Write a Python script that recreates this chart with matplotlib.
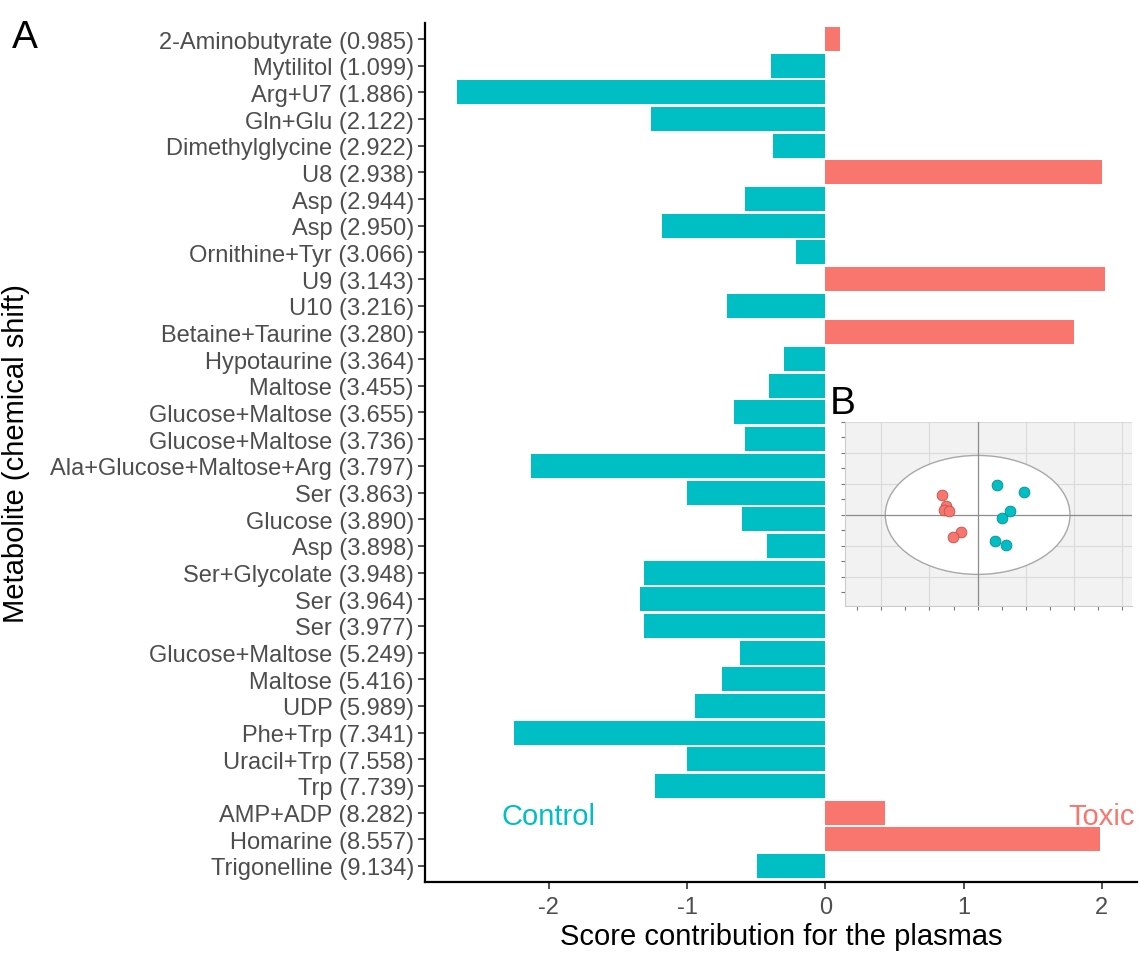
import numpy as np
import matplotlib
matplotlib.use("Agg")
import matplotlib.pyplot as plt
from matplotlib.patches import Ellipse

plt.rcParams['font.family'] = ['Liberation Sans', 'DejaVu Sans']

metabolites = [
    "2-Aminobutyrate (0.985)", "Mytilitol (1.099)", "Arg+U7 (1.886)", "Gln+Glu (2.122)",
    "Dimethylglycine (2.922)", "U8 (2.938)", "Asp (2.944)", "Asp (2.950)",
    "Ornithine+Tyr (3.066)", "U9 (3.143)", "U10 (3.216)", "Betaine+Taurine (3.280)",
    "Hypotaurine (3.364)", "Maltose (3.455)", "Glucose+Maltose (3.655)", "Glucose+Maltose (3.736)",
    "Ala+Glucose+Maltose+Arg (3.797)", "Ser (3.863)", "Glucose (3.890)", "Asp (3.898)",
    "Ser+Glycolate (3.948)", "Ser (3.964)", "Ser (3.977)", "Glucose+Maltose (5.249)",
    "Maltose (5.416)", "UDP (5.989)", "Phe+Trp (7.341)", "Uracil+Trp (7.558)",
    "Trp (7.739)", "AMP+ADP (8.282)", "Homarine (8.557)", "Trigonelline (9.134)",
]
scores = [
    0.11, -0.39, -2.66, -1.26,
    -0.38, 2.00, -0.58, -1.18,
    -0.21, 2.02, -0.71, 1.80,
    -0.30, -0.41, -0.66, -0.58,
    -2.13, -1.00, -0.60, -0.42,
    -1.31, -1.34, -1.31, -0.62,
    -0.75, -0.94, -2.25, -1.00,
    -1.23, 0.43, 1.99, -0.49,
]

# inset score plot (PLS-DA style)
toxic_t1 = [-0.745, -0.656, -0.697, -0.60, -0.352, -0.504]
toxic_t2 = [0.645, 0.28, 0.172, 0.118, -0.559, -0.71]
control_t1 = [0.40, 0.966, 0.676, 0.497, 0.352, 0.58]
control_t2 = [0.968, 0.753, 0.129, -0.086, -0.839, -0.957]

teal = "#00BFC4"
red = "#F8766D"

fig = plt.figure(figsize=(11.41, 9.54), dpi=100)
ax = fig.add_axes([425/1141, 71/954, 712/1141, 859/954])

n = len(metabolites)
ypos = np.arange(n)
colors = [red if s > 0 else teal for s in scores]
ax.barh(ypos, scores, height=0.9, color=colors)
ax.set_ylim(n - 1 + 0.6, -0.6)
rng = max(scores) - min(scores)
ax.set_xlim(min(scores) - 0.05*rng, max(scores) + 0.05*rng)
ax.set_yticks(ypos)
ax.set_yticklabels(metabolites)
ax.set_xticks([-2, -1, 0, 1, 2])
ax.set_xticklabels(["-2", "-1", "0", "1", "2"])
ax.tick_params(axis='both', labelsize=17, labelcolor="#4D4D4D", color="#333333",
               length=5, width=1.2)
ax.tick_params(axis='y', pad=3)
ax.tick_params(axis='x', pad=5)
for s in ['top', 'right']:
    ax.spines[s].set_visible(False)
for s in ['left', 'bottom']:
    ax.spines[s].set_linewidth(1.6)
    ax.spines[s].set_color("black")
ax.set_xlabel("Score contribution for the plasmas", fontsize=21, labelpad=3)
ax.set_ylabel("Metabolite (chemical shift)", fontsize=21)
ax.yaxis.set_label_coords((30 - 425) / 712, 0.5)

ax.text(-2.0, 29, "Control", color=teal, fontsize=21, ha='center', va='center_baseline')
ax.text(2.0, 29, "Toxic", color=red, fontsize=21, ha='center', va='center_baseline')

fig.text(12/1141, 1 - 38/954, "A", fontsize=28, va='center', ha='left')
fig.text(830/1141, 1 - 404/954, "B", fontsize=28, va='center', ha='left')

# inset
axi = fig.add_axes([845/1141, (954-607)/954, (1132-845)/1141, (607-423)/954])
axi.set_facecolor("#F2F2F2")
axi.set_xlim(-2.75, 3.2)
axi.set_ylim(-2.94, 3.0)
axi.set_xticks([-2, -1, 0, 1, 2, 3])
axi.set_yticks([-2, -1, 0, 1, 2, 3])
axi.set_xticks(np.arange(-2.5, 3.5, 1.0), minor=True)
axi.set_yticks(np.arange(-2.5, 3.5, 1.0), minor=True)
axi.grid(True, which='major', color="#DADADA", linewidth=0.8)
axi.set_axisbelow(True)
axi.tick_params(which='both', labelleft=False, labelbottom=False, length=3,
                color="#777777", width=0.8)
for s in ['top', 'right']:
    axi.spines[s].set_visible(False)
for s in ['left', 'bottom']:
    axi.spines[s].set_color("#CCCCCC")
    axi.spines[s].set_linewidth(0.8)
ell = Ellipse((0, 0), 2*1.915, 2*1.92, facecolor="white", edgecolor="#A8A8A8",
              linewidth=1.0, zorder=1)
axi.add_patch(ell)
axi.axhline(0, color="#8C8C8C", linewidth=0.9, zorder=2)
axi.axvline(0, color="#8C8C8C", linewidth=0.9, zorder=2)
axi.scatter(toxic_t1, toxic_t2, s=60, color=red, edgecolor="#C0504A", linewidth=0.6, zorder=3)
axi.scatter(control_t1, control_t2, s=60, color=teal, edgecolor="#008E93", linewidth=0.6, zorder=3)

fig.savefig("out.png", dpi=100)
